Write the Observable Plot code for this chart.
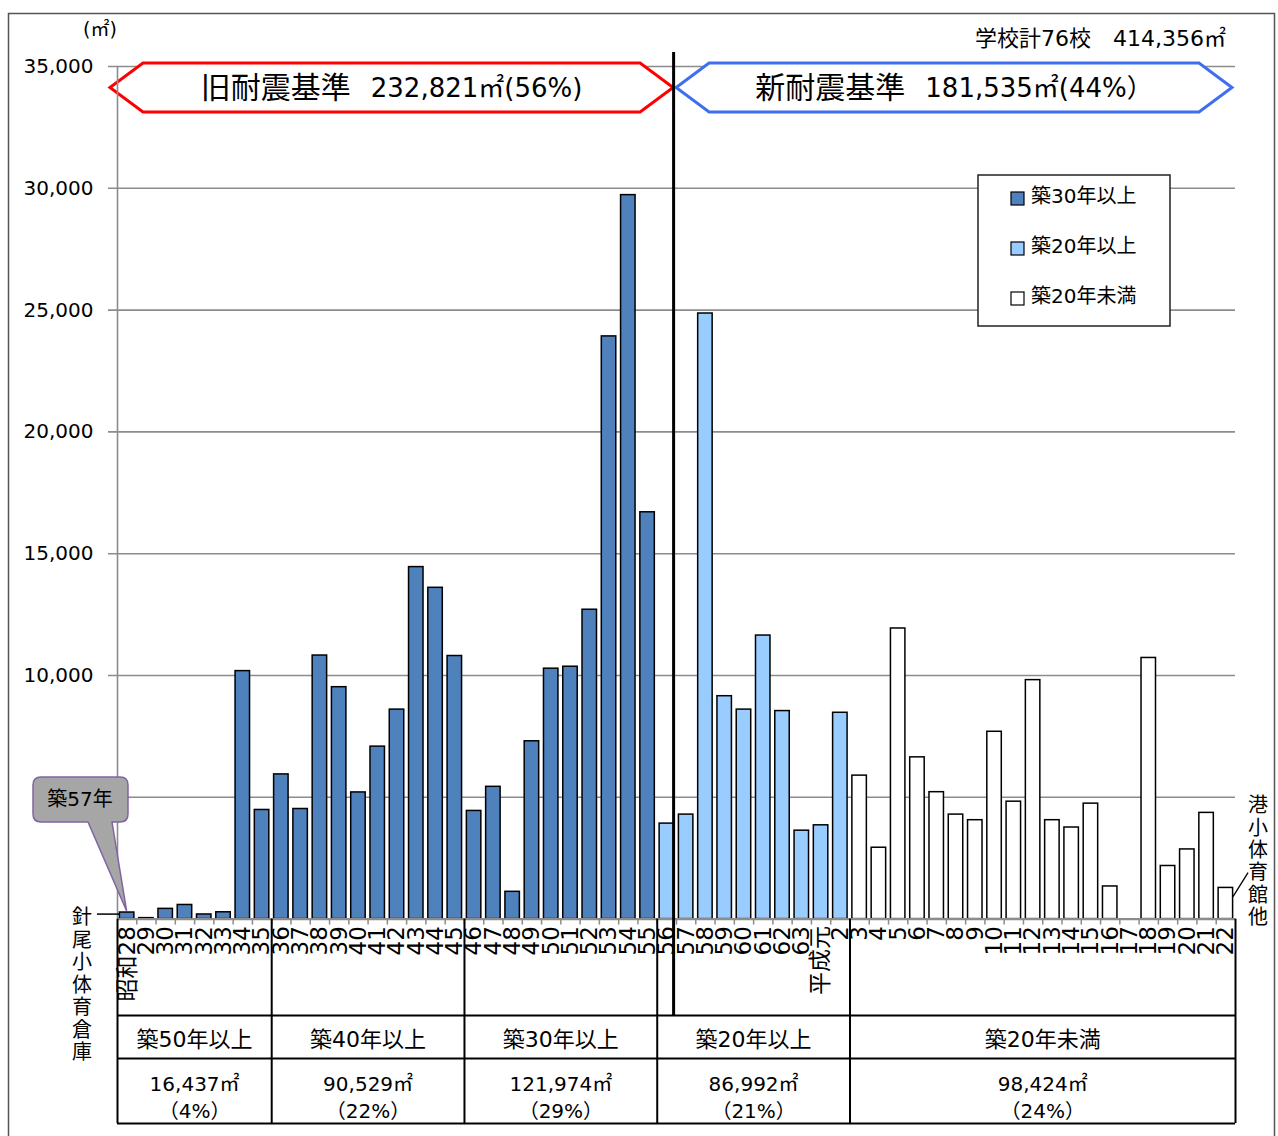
<!DOCTYPE html>
<html><head><meta charset="utf-8">
<script src="https://cdn.jsdelivr.net/npm/d3@7"></script>
<script src="https://cdn.jsdelivr.net/npm/@observablehq/plot@0.6"></script>
<style>body{margin:0;background:#fff} svg{display:block}</style>
</head><body><div id="chart"></div>
<script>
// ---- data ----
const categories = ["昭和28","29","30","31","32","33","34","35","36","37","38","39","40","41","42","43","44","45","46","47","48","49","50","51","52","53","54","55","56","57","58","59","60","61","62","63","平成元","2","3","4","5","6","7","8","9","10","11","12","13","14","15","16","17","18","19","20","21","22"];
const areas = [270, 40, 420, 580, 190, 280, 10180, 4480,
  5940, 4520, 10820, 9520, 5200, 7080, 8600, 14450, 13600, 10800,
  4440, 5430, 1120, 7300, 10280, 10360, 12700, 23920, 29720, 16700,
  3920, 4290, 24860, 9150, 8600, 11640, 8540, 3630, 3850, 8470,
  5890, 2930, 11930, 6640, 5210, 4290, 4060, 7690, 4820, 9810, 4060, 3760, 4740, 1340, 0, 10720, 2180, 2860, 4360, 1280];
const ageClasses = ["築30年以上", "築20年以上", "築20年未満"];
const classColors = ["#4F81BD", "#99CCFF", "#FFFFFF"];
const classStart = [0, 28, 38];            // first category index of each class
const groupLabels = ["築50年以上", "築40年以上", "築30年以上", "築20年以上", "築20年未満"];
const groupStart = [0, 8, 18, 28, 38];      // first category index of each group
const groupAreas = ["16,437㎡", "90,529㎡", "121,974㎡", "86,992㎡", "98,424㎡"];
const groupShares = ["（4%）", "（22%）", "（29%）", "（21%）", "（24%）"];
const yTicks = [5000, 10000, 15000, 20000, 25000, 30000, 35000];
const yLabelTicks = [10000, 15000, 20000, 25000, 30000, 35000]; // 5,000 is hidden behind the callout
const oldTitle = "旧耐震基準", oldValue = "232,821㎡(56%)";
const newTitle = "新耐震基準", newValue = "181,535㎡(44%）";
const totalLabel = "学校計76校　414,356㎡";
const unitLabel = "(㎡)";
const calloutLabel = "築57年";
const firstNote = "針尾小体育倉庫";
const lastNote = "港小体育館他";
const dividerPos = 28.85;                   // 新耐震基準 boundary (within 昭和56)

// ---- derived ----
const N = categories.length;
const classOf = i => ageClasses[d3.bisectRight(classStart, i) - 1];
const rows = categories.map((cat, i) => ({i, cat, area: areas[i], cls: classOf(i)}));
const groupEnd = i => (i + 1 < groupStart.length ? groupStart[i + 1] : N);
const groupMid = (d, i) => (groupStart[i] + groupEnd(i)) / 2;
const FONT = "'DejaVu Sans','Noto Sans CJK JP',sans-serif";

const plot = Plot.plot({
  width: 1278, height: 1136,
  marginLeft: 117, marginRight: 43, marginTop: 66, marginBottom: 217.4,
  style: {fontFamily: FONT, fontSize: "20px", color: "#000", background: "#fff", overflow: "visible"},
  x: {type: "linear", domain: [0, N], axis: null},
  y: {domain: [0, 35000], axis: null},
  color: {domain: ageClasses, range: classColors},
  marks: [
    Plot.ruleY(yTicks, {x1: 0, x2: N, stroke: "#8c8c8c", strokeWidth: 1.6, insetLeft: -9}),
    Plot.ruleX([0], {y1: 0, y2: 35000, stroke: "#8c8c8c", strokeWidth: 1.6}),
    Plot.rect(rows.filter(d => d.area > 0), {x1: "i", x2: d => d.i + 1, y1: 0, y2: "area", fill: "cls",
      stroke: "#000", strokeWidth: 1.5, insetLeft: 2.4, insetRight: 2.4}),
    Plot.ruleY([0], {x1: 0, x2: N, stroke: "#8c8c8c", strokeWidth: 2.2}),
    Plot.ruleX(d3.range(1, N), {y1: 0, y2: 0, insetBottom: -6, stroke: "#8c8c8c", strokeWidth: 1.5}),
    Plot.text(yLabelTicks, {x: 0, y: d => d, text: d => d3.format(",")(d), textAnchor: "end", dx: -24, fontSize: 20}),
    Plot.text(rows, {x: d => d.i + 0.5, y: 0, text: "cat", rotate: -90, textAnchor: "end", dy: 7, fontSize: 23}),
    // table below the chart
    Plot.ruleY([0], {x1: 0, x2: N, dy: 96.5, stroke: "#000", strokeWidth: 2}),
    Plot.ruleY([0], {x1: 0, x2: N, dy: 139.5, stroke: "#000", strokeWidth: 2}),
    Plot.ruleY([0], {x1: 0, x2: N, dy: 204.5, stroke: "#000", strokeWidth: 2}),
    Plot.ruleX([...groupStart, N], {y1: 0, y2: 0, insetBottom: -204.5, stroke: "#000", strokeWidth: 2}),
    Plot.text(groupLabels, {x: groupMid, y: 0, dy: 121, fontSize: 22}),
    Plot.text(groupAreas, {x: groupMid, y: 0, dy: 165, fontSize: 20}),
    Plot.text(groupShares, {x: groupMid, y: 0, dy: 192, fontSize: 20}),
    Plot.ruleX([dividerPos], {y1: 35000, y2: 0, insetTop: -14, insetBottom: -96.5, stroke: "#000", strokeWidth: 3})
  ]
});
document.getElementById("chart").appendChild(plot);

// ---- annotations ----
const xs = plot.scale("x"), ys = plot.scale("y"), cs = plot.scale("color");
const svg = d3.select(plot);
const left = xs.apply(0), right = xs.apply(N), divX = xs.apply(dividerPos);
const top35 = ys.apply(35000), base = ys.apply(0);

// outer frame
svg.insert("rect", ":first-child").attr("x", 8.5).attr("y", 13.5).attr("width", 1266).attr("height", 1200)
  .attr("fill", "none").attr("stroke", "#555").attr("stroke-width", 1.5);

// banners (over the gridlines, under the axis line)
const grid = plot.querySelector('g[aria-label="rule"]');
const bannerG = document.createElementNS("http://www.w3.org/2000/svg", "g");
if (grid) plot.insertBefore(bannerG, grid.nextSibling); else plot.appendChild(bannerG);
const bg = d3.select(bannerG);
const bTop = top35 - 3, bBot = top35 + 46, bMid = (bTop + bBot) / 2;
function banner(x0, x1, color, title, value) {
  const p = 33;
  bg.append("path")
    .attr("d", `M${x0},${bMid}L${x0 + p},${bTop}H${x1 - p}L${x1},${bMid}L${x1 - p},${bBot}H${x0 + p}Z`)
    .attr("fill", "#fff").attr("stroke", color).attr("stroke-width", 3).attr("stroke-linejoin", "miter");
  const t = bg.append("text").attr("x", (x0 + x1) / 2).attr("y", bMid + 1).attr("text-anchor", "middle")
    .attr("dominant-baseline", "middle").attr("font-family", FONT);
  t.append("tspan").attr("font-size", 30).text(title);
  t.append("tspan").attr("font-size", 26).attr("dx", 20).text(value);
}
banner(left - 7, divX, "#FF0000", oldTitle, oldValue);
banner(divX + 3, right - 3, "#3F6FF0", newTitle, newValue);

// unit and total
svg.append("text").attr("x", 100).attr("y", 30).attr("text-anchor", "middle").attr("dominant-baseline", "middle")
  .attr("font-size", 19).attr("font-family", FONT).text(unitLabel);
svg.append("text").attr("x", right - 9).attr("y", 40).attr("text-anchor", "end").attr("dominant-baseline", "middle")
  .attr("font-size", 22).attr("font-family", FONT).text(totalLabel);

// legend
const lg = svg.append("g").attr("font-family", FONT).attr("font-size", 20);
lg.append("rect").attr("x", 978).attr("y", 175).attr("width", 192).attr("height", 151)
  .attr("fill", "#fff").attr("stroke", "#222").attr("stroke-width", 1.5);
cs.domain.forEach((k, j) => {
  const cy = 198 + j * 50;
  lg.append("rect").attr("x", 1011).attr("y", cy - 6).attr("width", 13).attr("height", 13)
    .attr("fill", cs.apply(k)).attr("stroke", "#000").attr("stroke-width", 1.2);
  lg.append("text").attr("x", 1031).attr("y", cy - 1).attr("text-anchor", "start")
    .attr("dominant-baseline", "middle").text(k);
});

// callout 築57年 pointing at first bar
const tipX = xs.apply(0.5), tipY = ys.apply(areas[0]) - 1;
const cg = svg.append("g");
cg.append("path")
  .attr("d", `M41,777H120Q128,777 128,785V814Q128,822 120,822H112L${tipX},${tipY}L88,822H41Q33,822 33,814V785Q33,777 41,777Z`)
  .attr("fill", "#A6A6A6").attr("stroke", "#8064A2").attr("stroke-width", 1.5);
cg.append("text").attr("x", 80).attr("y", 800).attr("text-anchor", "middle").attr("dominant-baseline", "middle")
  .attr("font-size", 20).attr("font-family", FONT).text(calloutLabel);

// vertical notes
function vtext(str, x, y0, step) {
  [...str].forEach((ch, k) => svg.append("text").attr("x", x).attr("y", y0 + k * step)
    .attr("text-anchor", "middle").attr("dominant-baseline", "middle")
    .attr("font-size", 20).attr("font-family", FONT).text(ch));
}
svg.append("line").attr("x1", 97).attr("x2", left + 3).attr("y1", base - 4.5).attr("y2", base - 4.5)
  .attr("stroke", "#000").attr("stroke-width", 1.5);
vtext(firstNote, 82, base, 22.5);
svg.append("line").attr("x1", right - 2).attr("y1", base - 22).attr("x2", right + 13).attr("y2", base - 46)
  .attr("stroke", "#000").attr("stroke-width", 1.3);
vtext(lastNote, 1258, base - 112, 22.4);
</script>
</body></html>
